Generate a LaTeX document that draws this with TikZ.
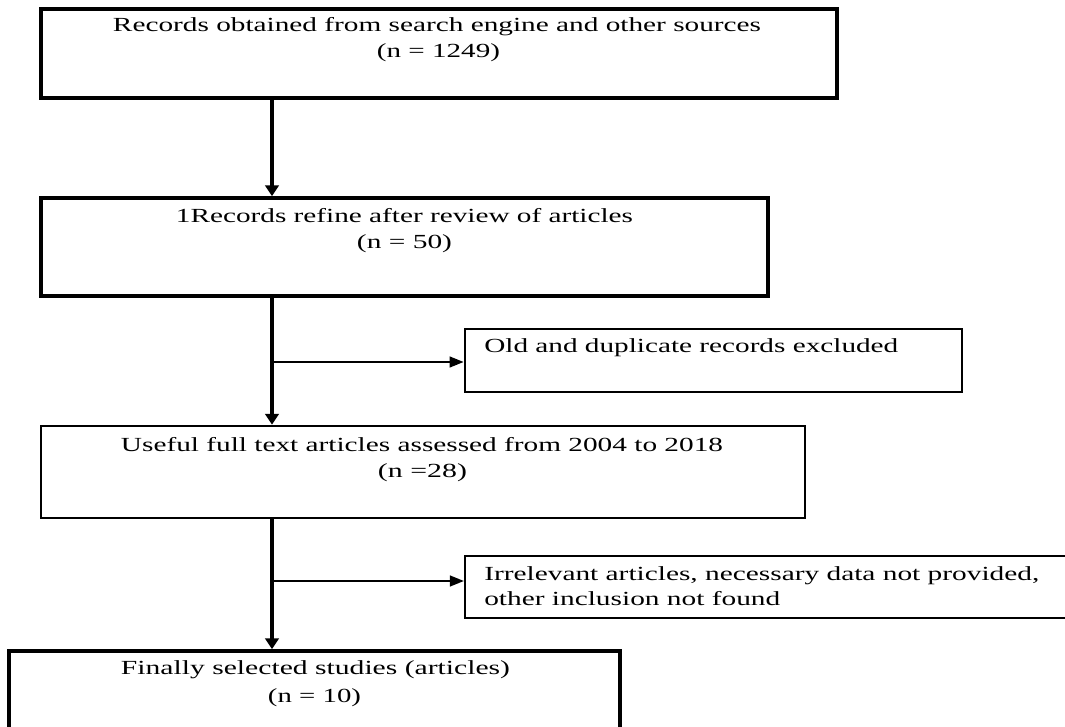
\documentclass[tikz,border=0pt]{standalone}
\usepackage{fontspec}
\setmainfont{Liberation Serif}
\usepackage{graphicx}
\usetikzlibrary{arrows.meta}
\newcommand{\fw}[2]{\resizebox{#1pt}{\height}{#2}}
\begin{document}
\begin{tikzpicture}[x=0.75pt,y=-0.75pt,
  boxthick/.style={draw=black,line width=2.8pt,rectangle,inner sep=0pt},
  boxmid/.style={draw=black,line width=2pt,rectangle,inner sep=0pt},
  boxthin/.style={draw=black,line width=1.6pt,rectangle,inner sep=0pt},
  txt/.style={inner sep=0pt,anchor=base,font=\fontsize{15}{18}\selectfont},
  txtl/.style={inner sep=0pt,anchor=base west,font=\fontsize{15}{18}\selectfont},
  mainarrow/.style={line width=2.8pt,-{Triangle[length=8pt,width=10pt]}},
  sidearrow/.style={line width=1.6pt,-{Triangle[length=10.5pt,width=8pt]}}]
\useasboundingbox (0,0) rectangle (1065,727);
\clip (0,0) rectangle (1065,727);
\fill[white] (0,0) rectangle (1065,727);
% boxes
\node[boxthick,minimum width=796*0.75pt,minimum height=89*0.75pt] (b1) at (439,53.5) {};
\node[boxthick,minimum width=727*0.75pt,minimum height=98*0.75pt] (b2) at (404.5,247) {};
\node[boxmid,minimum width=497*0.75pt,minimum height=63*0.75pt] (b3) at (713.5,360.5) {};
\node[boxmid,minimum width=764*0.75pt,minimum height=92*0.75pt] (b4) at (423,472) {};
\node[boxthin,minimum width=615*0.75pt,minimum height=62*0.75pt] (b5) at (772.5,587) {};
\node[boxthick,minimum width=611*0.75pt,minimum height=94*0.75pt] (b6) at (314.5,698) {};
% texts
\node[txt] (t1a) at (437,32) {\fw{486}{Records obtained from search engine and other sources}};
\node[txt] (t1b) at (438.5,58) {\fw{92.25}{(n = 1249)}};
\node[txt] (t2a) at (404.5,223) {\fw{342.75}{1Records refine after review of articles}};
\node[txt] (t2b) at (404.5,249) {\fw{71.25}{(n = 50)}};
\node[txtl] (t3) at (484,353) {\fw{310.5}{Old and duplicate records excluded}};
\node[txt] (t4a) at (422,452) {\fw{451.5}{Useful full text articles assessed from 2004 to 2018}};
\node[txt] (t4b) at (422.5,478) {\fw{66.75}{(n =28)}};
\node[txtl] (t5a) at (484,580) {\fw{416.25}{Irrelevant articles, necessary data not provided,}};
\node[txtl] (t5b) at (484,605) {\fw{222}{other inclusion not found}};
\node[txt] (t6a) at (315.5,674) {\fw{291.75}{Finally selected studies (articles)}};
\node[txt] (t6b) at (314.5,702) {\fw{69.75}{(n = 10)}};
% connectors
\coordinate (spine) at (272,0);
\coordinate (j1) at (272,362);
\coordinate (j2) at (272,581);
\draw[mainarrow] (b1.south -| spine) -- (b2.north -| spine);
\draw[mainarrow] (b2.south -| spine) -- (b4.north -| spine);
\draw[mainarrow] (b4.south -| spine) -- (b6.north -| spine);
\draw[sidearrow] (j1) -- (j1 -| b3.west);
\draw[sidearrow] (j2) -- (j2 -| b5.west);
\end{tikzpicture}
\end{document}
